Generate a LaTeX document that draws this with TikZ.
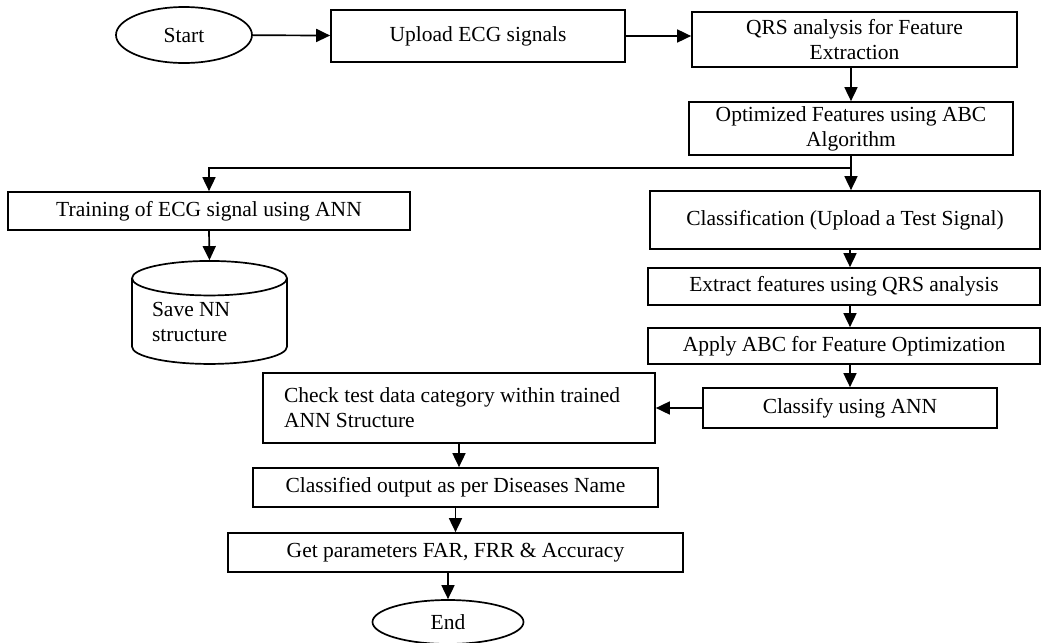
\documentclass[tikz,border=0pt]{standalone}
\usepackage{fontspec}
\setmainfont{Liberation Serif}
\usetikzlibrary{shapes.geometric,arrows.meta}
\tikzset{
% Node styles for the flow chart: process box, terminal and store
process box/.style={rectangle,draw,line width=1.7pt,inner sep=2pt,align=center},
terminal/.style={ellipse,draw,line width=1.7pt,inner sep=0pt},
store/.style={cylinder,shape border rotate=90,draw,line width=1.7pt,aspect=0.3,inner sep=0pt},
flow/.style={line width=1.7pt,-{Triangle[length=14pt,width=13pt]}}
}

\begin{document}
\begin{tikzpicture}[x=1pt,y=-1pt,font=\fontsize{21.5}{25}\selectfont]
\useasboundingbox (0,0) rectangle (1045,643);
% Top row
\node(start)[terminal,minimum width=136pt,minimum height=56pt] at (184,35){Start};
\node(upload)[process box,minimum width=294pt,minimum height=52pt] at (478,36){Upload ECG signals};
\node(qrs)[process box,minimum width=325pt,minimum height=55pt] at (854.5,39.5){QRS analysis for Feature\\Extraction};
\node(opt)[process box,minimum width=324pt,minimum height=53pt] at (851,128.5){Optimized Features using ABC\\Algorithm};
% Training branch
\node(train)[process box,minimum width=402pt,minimum height=38pt] at (209,211){Training of ECG signal using ANN};
\node(save)[store,minimum width=155pt,minimum height=103pt,align=left] at (209.5,321.5){\parbox{115pt}{Save NN\\structure}};
% Testing branch
\node(class)[process box,minimum width=390pt,minimum height=58pt] at (845,220){Classification (Upload a Test Signal)};
\node(extract)[process box,minimum width=392pt,minimum height=37pt] at (844,286.5){Extract features using QRS analysis};
\node(apply)[process box,minimum width=392pt,minimum height=36pt] at (844,346){Apply ABC for Feature Optimization};
\node(classify)[process box,minimum width=294pt,minimum height=40pt] at (850,408){Classify using ANN};
% Result
\node(check)[process box,minimum width=392pt,minimum height=70pt,align=left] at (459,408){\parbox{350pt}{Check test data category within trained\\ANN Structure}};
\node(output)[process box,minimum width=405pt,minimum height=39pt] at (455.5,487.5){Classified output as per Diseases Name};
\node(param)[process box,minimum width=455pt,minimum height=39pt] at (455.5,552.5){Get parameters FAR, FRR \& Accuracy};
\node(end)[terminal,minimum width=151pt,minimum height=44pt] at (448,622){End};
\coordinate(fork) at (opt.south |- 0,168);
% Connectors
\draw[flow](start)--(upload);
\draw[flow](upload)--(qrs.west |- upload);
\draw[flow](opt.north |- qrs.south)--(opt.north);
\draw[flow](opt.south)--(opt.south |- class.north);
\draw[flow](fork)-|(train.north);
\draw[flow](train.south)--(save.north);
\draw[flow](class.south -| classify)--(extract.north -| classify);
\draw[flow](extract.south -| classify)--(apply.north -| classify);
\draw[flow](apply.south -| classify)--(classify.north);
\draw[flow](classify.west)--(check.east);
\draw[flow](check.south)--(check.south |- output.north);
\draw[flow](output.south)--(output.south |- param.north);
\draw[flow](end.north |- param.south)--(end.north);
\end{tikzpicture}
\end{document}
